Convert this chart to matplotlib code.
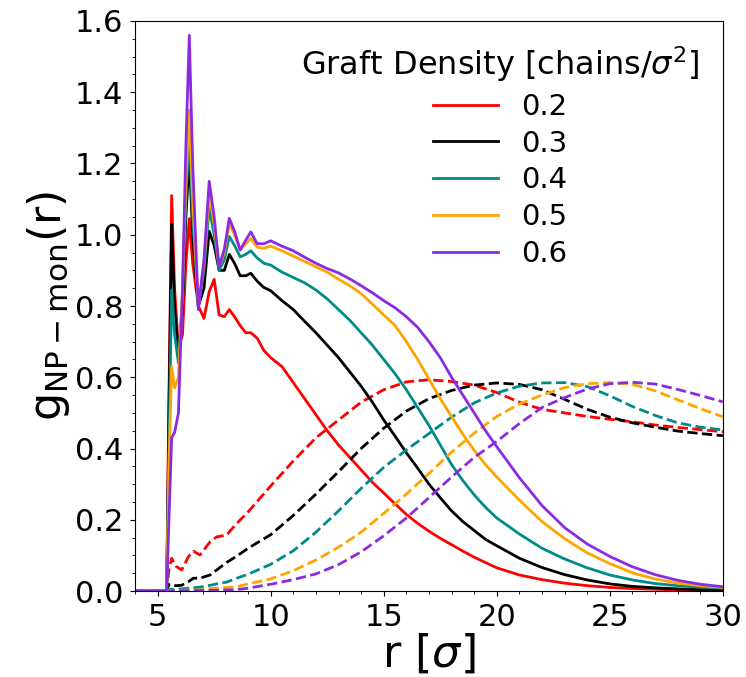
import numpy as np
import matplotlib
matplotlib.use("Agg")
import matplotlib.pyplot as plt
from matplotlib.ticker import MultipleLocator

# graft densities and their colours
densities = ["0.2", "0.3", "0.4", "0.5", "0.6"]
colors = ["red", "black", "darkcyan", "orange", "blueviolet"]

# solid curves: g_NP-mon(r)
r_solid = [4.0, 5.40, 5.50, 5.62, 5.75, 5.92, 6.10, 6.25, 6.40, 6.55, 6.80, 7.05,
           7.28, 7.50, 7.72, 7.95, 8.17, 8.40, 8.65, 8.90, 9.12, 9.40, 9.70, 10.0,
           10.5, 11.0, 11.5, 12.0, 12.5, 13.0, 13.5, 14.0, 14.5, 15.0, 15.5, 16.0,
           16.5, 17.0, 17.5, 18.0, 18.5, 19.0, 19.5, 20.0, 21.0, 22.0, 23.0, 24.0,
           25.0, 26.0, 27.0, 28.0, 29.0, 30.0]
g_02 = [0, 0, 0.55, 1.11, 0.85, 0.68, 0.72, 0.92, 1.045, 0.92, 0.80, 0.765,
        0.84, 0.875, 0.775, 0.77, 0.79, 0.77, 0.745, 0.725, 0.725, 0.71, 0.675, 0.655,
        0.63, 0.585, 0.54, 0.495, 0.45, 0.41, 0.375, 0.34, 0.305, 0.275, 0.245, 0.215,
        0.19, 0.168, 0.148, 0.13, 0.112, 0.095, 0.08, 0.065, 0.045, 0.032, 0.022, 0.015,
        0.01, 0.007, 0.005, 0.003, 0.002, 0.001]
g_03 = [0, 0, 0.5, 1.03, 0.80, 0.66, 0.80, 1.05, 1.22, 1.0, 0.80, 0.85,
        1.01, 0.97, 0.90, 0.90, 0.945, 0.92, 0.885, 0.885, 0.892, 0.87, 0.852, 0.843,
        0.815, 0.79, 0.757, 0.725, 0.69, 0.655, 0.615, 0.575, 0.53, 0.48, 0.435, 0.388,
        0.345, 0.30, 0.262, 0.225, 0.195, 0.17, 0.145, 0.127, 0.092, 0.066, 0.046, 0.031,
        0.02, 0.013, 0.009, 0.006, 0.004, 0.003]
g_04 = [0, 0, 0.4, 0.845, 0.72, 0.64, 0.82, 1.10, 1.28, 1.05, 0.80, 0.90,
        1.075, 1.0, 0.90, 0.93, 0.995, 0.97, 0.938, 0.945, 0.955, 0.935, 0.92, 0.915,
        0.895, 0.88, 0.865, 0.845, 0.82, 0.79, 0.76, 0.725, 0.69, 0.65, 0.61, 0.565,
        0.515, 0.465, 0.41, 0.355, 0.31, 0.27, 0.235, 0.205, 0.16, 0.12, 0.09, 0.065,
        0.045, 0.031, 0.021, 0.015, 0.011, 0.008]
g_05 = [0, 0, 0.35, 0.63, 0.57, 0.60, 0.85, 1.15, 1.35, 1.1, 0.80, 0.92,
        1.115, 1.03, 0.91, 0.95, 1.032, 1.0, 0.957, 0.975, 0.99, 0.965, 0.962, 0.968,
        0.955, 0.94, 0.925, 0.91, 0.895, 0.875, 0.857, 0.835, 0.805, 0.775, 0.745, 0.70,
        0.65, 0.595, 0.54, 0.49, 0.44, 0.395, 0.355, 0.32, 0.255, 0.195, 0.147, 0.107,
        0.077, 0.051, 0.034, 0.022, 0.015, 0.01]
g_06 = [0, 0, 0.20, 0.43, 0.445, 0.50, 0.85, 1.25, 1.56, 1.20, 0.79, 0.93,
        1.15, 1.05, 0.91, 0.96, 1.046, 1.01, 0.957, 0.985, 1.008, 0.975, 0.975, 0.983,
        0.968, 0.955, 0.937, 0.92, 0.905, 0.893, 0.876, 0.857, 0.837, 0.815, 0.795, 0.77,
        0.74, 0.70, 0.655, 0.60, 0.55, 0.50, 0.45, 0.405, 0.318, 0.24, 0.178, 0.132,
        0.097, 0.068, 0.046, 0.03, 0.019, 0.012]

# dashed curves
r_dash = [4.0, 5.40, 5.50, 5.62, 5.80, 6.06, 6.36, 6.58, 6.87, 7.32, 7.61, 8.05, 8.5,
          9, 10, 11, 12, 13, 14, 15, 16, 17, 18, 19, 20, 21, 22, 23, 24, 25, 26, 27,
          28, 29, 30]
d_02 = [0, 0, 0.06, 0.092, 0.07, 0.059, 0.096, 0.112, 0.101, 0.138, 0.152, 0.157, 0.19,
        0.222, 0.295, 0.365, 0.43, 0.48, 0.53, 0.565, 0.587, 0.593, 0.588, 0.578, 0.557,
        0.53, 0.51, 0.50, 0.49, 0.482, 0.475, 0.466, 0.459, 0.453, 0.447]
d_03 = [0, 0, 0.018, 0.02, 0.015, 0.016, 0.026, 0.036, 0.036, 0.045, 0.059, 0.08, 0.098,
        0.12, 0.158, 0.212, 0.272, 0.335, 0.40, 0.457, 0.505, 0.54, 0.563, 0.578, 0.584,
        0.58, 0.565, 0.538, 0.51, 0.488, 0.472, 0.46, 0.449, 0.442, 0.436]
d_04 = [0, 0, 0.004, 0.005, 0.005, 0.006, 0.008, 0.009, 0.011, 0.016, 0.02, 0.025, 0.036,
        0.047, 0.075, 0.113, 0.165, 0.225, 0.288, 0.347, 0.396, 0.442, 0.488, 0.528, 0.556,
        0.575, 0.584, 0.585, 0.574, 0.548, 0.518, 0.493, 0.472, 0.46, 0.452]
d_05 = [0, 0, 0.001, 0.002, 0.002, 0.002, 0.003, 0.003, 0.003, 0.007, 0.008, 0.01, 0.012,
        0.02, 0.034, 0.057, 0.087, 0.123, 0.165, 0.218, 0.272, 0.33, 0.39, 0.443, 0.49,
        0.525, 0.55, 0.571, 0.582, 0.585, 0.58, 0.562, 0.537, 0.512, 0.489]
d_06 = [0, 0, 0.0, 0.001, 0.001, 0.001, 0.001, 0.001, 0.002, 0.002, 0.002, 0.003, 0.004,
        0.008, 0.019, 0.032, 0.048, 0.074, 0.11, 0.155, 0.205, 0.262, 0.32, 0.375, 0.42,
        0.47, 0.515, 0.543, 0.567, 0.582, 0.586, 0.581, 0.566, 0.549, 0.531]

solid = [g_02, g_03, g_04, g_05, g_06]
dashed = [d_02, d_03, d_04, d_05, d_06]

# draw
fig = plt.figure(figsize=(7.46, 6.77), dpi=100)
ax = fig.add_axes([0.181, 0.127, 0.788, 0.842])

for lab, c, gs, gd in zip(densities, colors, solid, dashed):
    ax.plot(r_solid, gs, "-", color=c, linewidth=2, label=lab)
    ax.plot(r_dash, gd, "--", color=c, linewidth=2)

ax.set_xlim(4, 30)
ax.set_ylim(0, 1.6)
ax.xaxis.set(major_locator=MultipleLocator(5), minor_locator=MultipleLocator(1))
ax.yaxis.set(major_locator=MultipleLocator(0.2), minor_locator=MultipleLocator(0.05))
ax.tick_params(labelsize=22, pad=5)
ax.set_xlabel(r"r [$\sigma$]", fontsize=32, labelpad=0)
ax.set_ylabel(r"$\mathrm{g_{NP-mon}(r)}$", fontsize=32, labelpad=2)

legend = ax.legend(title=r"Graft Density [chains/$\sigma^2$]", loc="upper right",
    frameon=False, fontsize=21, title_fontsize=23, handlelength=2.25,
    labelspacing=0.3, borderaxespad=0.4)

plt.savefig("out.png", dpi=100)
plt.close()
